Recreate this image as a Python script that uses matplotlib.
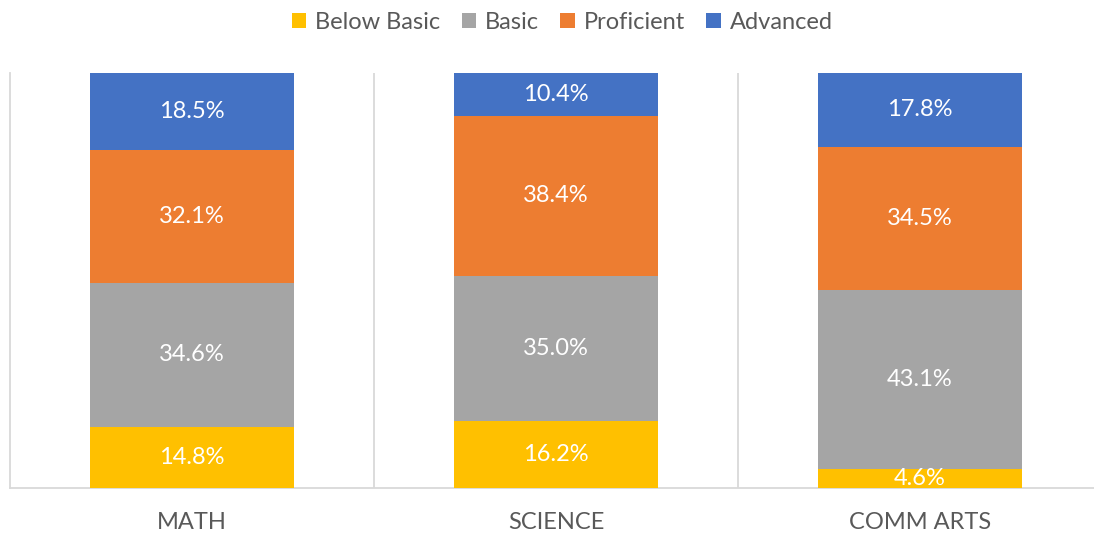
import numpy as np
import matplotlib
matplotlib.use("Agg")
import matplotlib.pyplot as plt

# data
subjects = ["MATH", "SCIENCE", "COMM ARTS"]
levels = ["Below Basic", "Basic", "Proficient", "Advanced"]
below_basic = [14.8, 16.2, 4.6]
basic = [34.6, 35.0, 43.1]
proficient = [32.1, 38.4, 34.5]
advanced = [18.5, 10.4, 17.8]

colors = ["#FFC000", "#A5A5A5", "#ED7D31", "#4472C4"]

plt.rcParams['font.family'] = ['Lato', 'DejaVu Sans']

fig = plt.figure(figsize=(10.94, 5.38), dpi=100)
ax = fig.add_axes([10/1094, 50/538, 1092/1094, 415/538])

x = np.arange(len(subjects))
bottom = np.zeros(len(subjects))
for name, vals, c in zip(levels, [below_basic, basic, proficient, advanced], colors):
  vals = np.array(vals)
  ax.bar(x, vals, 0.558, bottom=bottom, color=c, label=name, zorder=3)
  for xi, b, v in zip(x, bottom, vals):
    ax.text(xi, b + v/2, "%.1f%%" % v, ha='center', va='center',
            color='white', fontsize=17, zorder=4)
  bottom += vals

ax.set_xlim(-0.5, len(subjects) - 0.5)
ax.set_ylim(0, 100)
ax.set_yticks([])
ax.set_xticks(x)
ax.set_xticklabels(subjects, fontsize=17, color='#595959')
ax.tick_params(axis='x', length=0, pad=17)

# category separators
for xs in np.arange(0.5, len(subjects) - 0.5 + 1, 1.0):
  ax.axvline(xs, color='#d9d9d9', lw=1.3, zorder=1)

for s in ['top', 'right']:
  ax.spines[s].set_visible(False)
for s in ['left', 'bottom']:
  ax.spines[s].set_color('#d9d9d9')
  ax.spines[s].set_linewidth(1.3)

fig.legend(loc='upper center', bbox_to_anchor=(0.514, 1.018), ncol=4, frameon=False,
           fontsize=17, labelcolor='#595959', handlelength=0.6, handleheight=0.6,
           handletextpad=0.4, columnspacing=0.9)

fig.savefig("out.png", dpi=100)
